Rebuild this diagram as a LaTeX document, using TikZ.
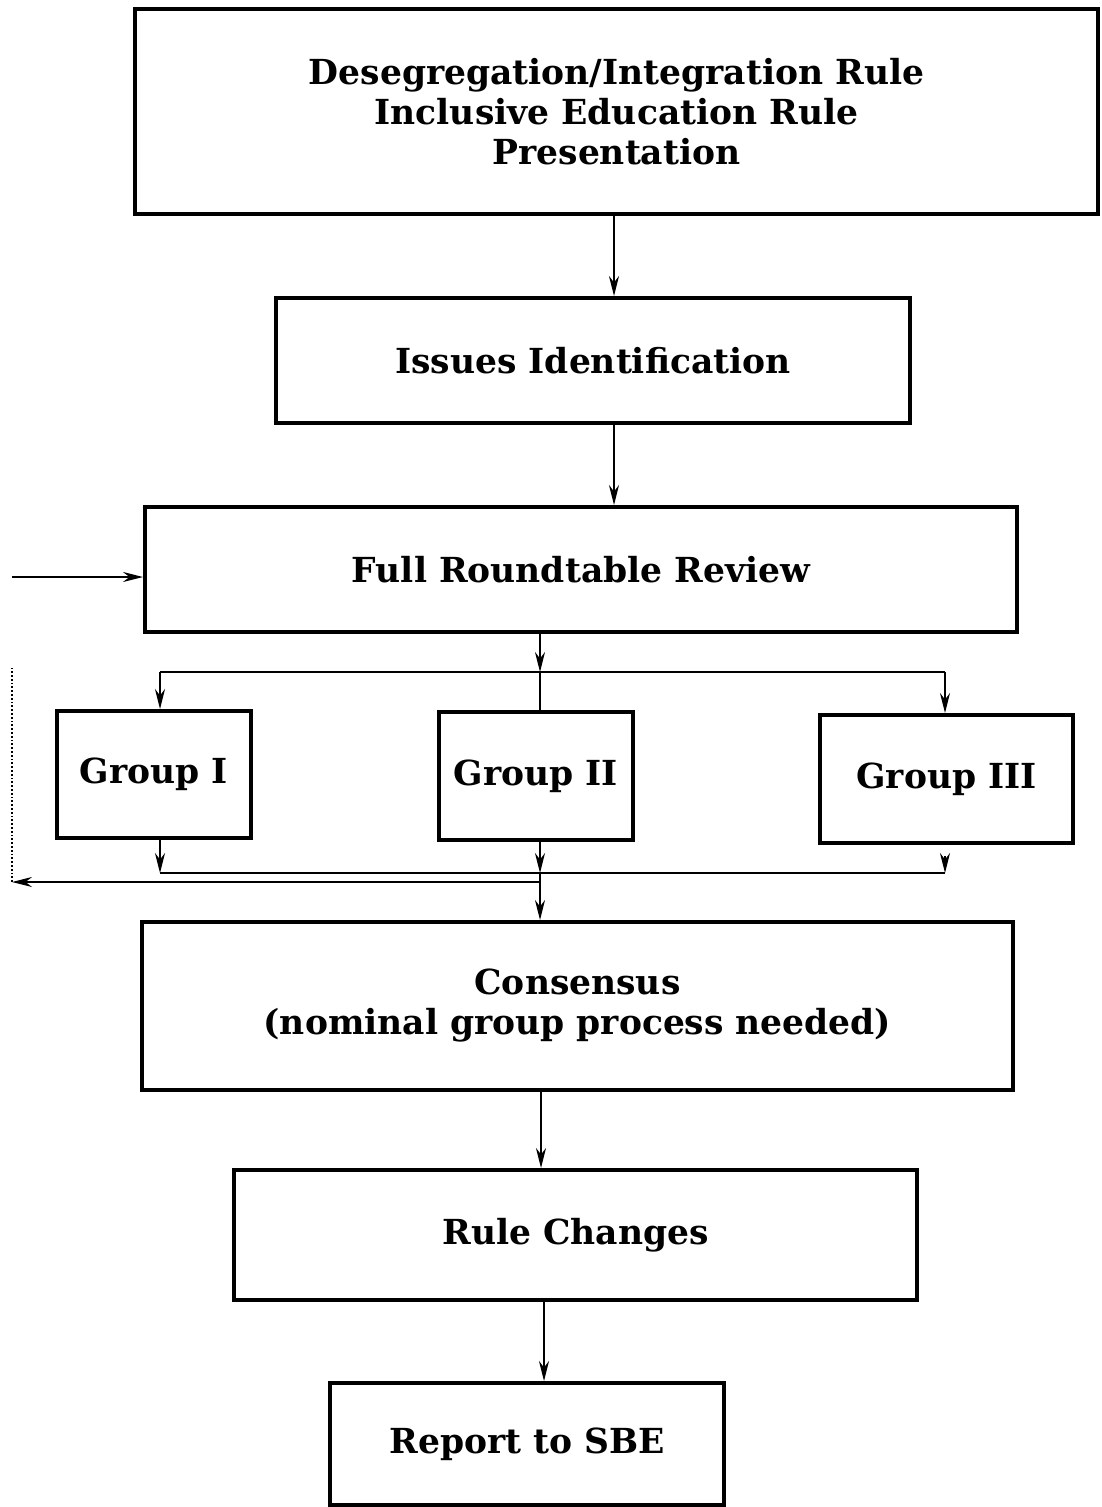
\documentclass[tikz,border=0pt]{standalone}
\usepackage{fontspec}
\setmainfont{DejaVu Serif}
\usetikzlibrary{arrows.meta}
\begin{document}
\begin{tikzpicture}[x=1pt,y=-1pt,
  box/.style={draw,line width=4pt,rectangle,inner sep=0pt,align=center,
    font=\fontsize{34.5}{40}\selectfont\bfseries},
  arr/.style={line width=1.8pt,-{Stealth[length=20pt,width=10pt]}},
  ln/.style={line width=1.8pt}]
\useasboundingbox (0,0) rectangle (1101,1507);
\node[box,minimum width=963pt,minimum height=205pt] (top) at (616.5,111.5)
  {Desegregation/Integration Rule\\Inclusive Education Rule\\Presentation};
\node[box,minimum width=634pt,minimum height=125pt] (issues) at (593,360.5) {Issues Identification};
\node[box,minimum width=872pt,minimum height=125pt] (full) at (581,569.5) {Full Roundtable Review};
\node[box,minimum width=194pt,minimum height=127pt] (g1) at (154,774.5) {Group I};
\node[box,minimum width=194pt,minimum height=128pt] (g2) at (536,776) {Group II};
\node[box,minimum width=253pt,minimum height=128pt] (g3) at (946.5,779) {Group III};
\node[box,minimum width=871pt,minimum height=168pt] (cons) at (577.5,1006)
  {Consensus\\(nominal group process needed)};
\node[box,minimum width=683pt,minimum height=130pt] (rule) at (575.5,1235) {Rule Changes};
\node[box,minimum width=394pt,minimum height=122pt] (rep) at (527,1444) {Report to SBE};
% vertical main arrows
\coordinate (c1) at (614,0);
\draw[arr] (top.south -| c1) -- (issues.north -| c1);
\draw[arr] (issues.south -| c1) -- (full.north -| c1);
% split
\coordinate (sx) at (540,672);
\coordinate (s1) at (160,672);
\coordinate (s3) at (945,672);
\draw[arr] (full.south -| sx) -- (sx);
\draw[ln] (s1) -- (s3);
\draw[arr] (s1) -- (g1.north -| s1);
\draw[arr] (s3) -- (g3.north -| s3);
\draw[ln] (sx) -- (g2.north -| sx);
% merge
\coordinate (b1) at (160,873);
\coordinate (b2) at (540,873);
\coordinate (b3) at (945,873);
\coordinate (b3t) at (945,856);
\coordinate (f1) at (540,882);
\coordinate (f2) at (12,882);
\coordinate (f3) at (12,668);
\coordinate (f4) at (12,577);
\draw[arr] (g1.south -| b1) -- (b1);
\draw[arr] (g2.south -| b2) -- (b2);
\draw[arr] (b3t) -- (b3);
\draw[ln] (b1) -- (b3);
\draw[arr] (f1) -- (f2);
\draw[arr] (b2) -- (cons.north -| b2);
\draw[ln,dotted] (f2) -- (f3);
\draw[arr] (f4) -- (full.west |- f4);
% lower arrows
\coordinate (c2) at (541,0);
\draw[arr] (cons.south -| c2) -- (rule.north -| c2);
\coordinate (c3) at (544,0);
\draw[arr] (rule.south -| c3) -- (rep.north -| c3);
\end{tikzpicture}
\end{document}
